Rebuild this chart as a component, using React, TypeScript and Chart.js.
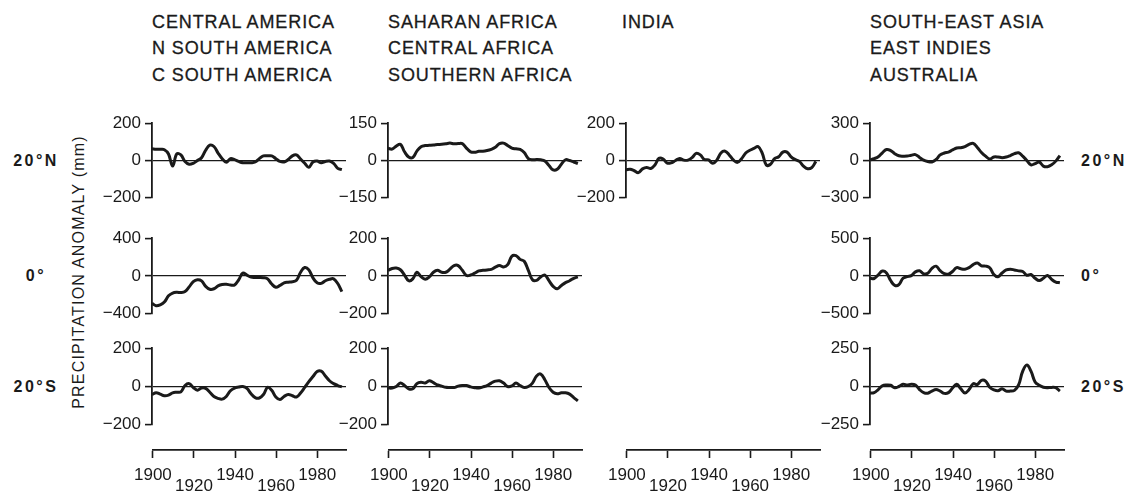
import React, { useEffect, useRef } from "react";
import { Chart, registerables } from "chart.js";

Chart.register(...registerables);

const years = [1900, 1902, 1904, 1906, 1908, 1910, 1912, 1914, 1916, 1918, 1920, 1922, 1924, 1926, 1928, 1930, 1932, 1934, 1936, 1938, 1940, 1942, 1944, 1946, 1948, 1950, 1952, 1954, 1956, 1958, 1960, 1962, 1964, 1966, 1968, 1970, 1972, 1974, 1976, 1978, 1980, 1982, 1984, 1986, 1988, 1990, 1992];

const xTickYears = [1900, 1920, 1940, 1960, 1980];
const loweredTickYears = [1920, 1960];

// 20°N row
const centralAmerica = [63, 60, 60, 58, 35, -30, 35, 30, -5, -20, -15, 0, 15, 55, 82, 75, 40, 10, -10, 10, 5, -5, -12, -12, -12, -8, 10, 25, 25, 25, 10, -5, -8, 5, 25, 30, 8, -15, -36, -8, -3, -12, -5, -3, -15, -42, -48];
const saharanAfrica = [49, 46, 58, 65, 35, 14, 12, 38, 55, 60, 61, 62, 64, 65, 67, 70, 67, 68, 68, 50, 35, 33, 37, 37, 40, 45, 53, 68, 70, 60, 50, 47, 45, 32, 8, 3, 4, 3, -2, -20, -38, -35, -15, 3, 0, -6, -12];
const india = [-50, -47, -55, -65, -45, -37, -43, -24, 12, 8, -14, -12, 0, 11, 2, 2, 15, 38, 30, 5, 3, -15, 2, 40, 50, 30, 3, -10, 10, 40, 55, 65, 75, 40, -25, -20, 10, 20, 45, 45, 20, 5, -5, -30, -44, -38, -5];
const southEastAsia = [5, 15, 30, 62, 88, 80, 55, 38, 35, 36, 42, 47, 25, 3, -8, -12, 8, 45, 60, 68, 85, 100, 103, 112, 130, 138, 105, 65, 35, 12, 28, 28, 23, 28, 40, 55, 62, 35, 0, -35, -25, -12, -45, -50, -35, -5, 40];

// 0° row
const nSouthAmerica = [-290, -315, -305, -275, -210, -180, -172, -175, -165, -115, -60, -40, -52, -110, -140, -135, -105, -90, -88, -95, -95, -40, 30, 10, -12, -15, -15, -18, -30, -85, -118, -100, -72, -65, -60, -45, 40, 90, 65, -20, -72, -78, -50, -35, -30, -80, -165];
const centralAfrica = [30, 40, 42, 33, 5, -25, -15, 20, -3, -17, -5, 20, 30, 20, 20, 36, 55, 55, 30, 3, 5, 15, 27, 30, 32, 35, 47, 55, 48, 60, 105, 108, 88, 78, 30, -20, -23, -5, 5, -25, -55, -67, -50, -35, -25, -12, -5];
const eastIndies = [-30, -33, 15, 65, 40, -60, -125, -115, -30, -8, 5, 55, 70, 29, 35, 100, 130, 70, 30, 25, 60, 110, 95, 90, 110, 150, 172, 135, 131, 110, 20, -10, 40, 80, 90, 80, 68, 60, 10, 20, -30, -60, -30, 8, -45, -80, -90];

// 20°S row
const cSouthAmerica = [-42, -32, -40, -48, -45, -33, -30, -28, 5, 15, -5, -19, -8, -10, -30, -52, -62, -66, -52, -22, -8, -3, 0, -10, -38, -58, -60, -42, -5, -20, -55, -68, -52, -42, -48, -55, -34, -5, 25, 52, 78, 80, 55, 30, 15, 5, -2];
const southernAfrica = [-8, -8, 0, 18, 5, -12, -12, 15, 22, 18, 30, 20, 8, 2, -4, -5, -5, 2, 5, 5, -2, -6, -8, -2, 5, 18, 28, 30, 18, 0, 3, 18, 5, -5, 0, 18, 55, 65, 35, -5, -30, -38, -33, -33, -40, -58, -75];
const australia = [-44, -40, -20, 5, 10, 8, -8, 0, 15, 10, 15, 10, -20, -40, -44, -30, -20, -30, -45, -40, -10, 15, -15, -42, -20, 18, 13, 40, 35, -5, -22, -28, -15, -30, -30, -25, 10, 100, 140, 100, 30, 8, -5, -8, -6, -8, -30];

const headerCol1 = ["CENTRAL AMERICA", "N SOUTH AMERICA", "C SOUTH AMERICA"];
const headerCol2 = ["SAHARAN AFRICA", "CENTRAL AFRICA", "SOUTHERN AFRICA"];
const headerCol3 = ["INDIA"];
const headerCol4 = ["SOUTH-EAST ASIA", "EAST INDIES", "AUSTRALIA"];
const rowLabels = ["20°N", "0°", "20°S"];
const yAxisTitle = "PRECIPITATION ANOMALY (mm)";

const FONT = '"Liberation Sans", Arial, Helvetica, sans-serif';
const INK = "#1a1a1a";
const XMAX = 1994;
const PLOT_W = 194;
const YW = 56;
const PAD = 11;

const colX = [152, 388, 626, 870];
const rowsY = [
  { top: 120, bottom: 201 },
  { top: 235, bottom: 317 },
  { top: 345, bottom: 428 },
];
const AXIS_Y = 450;

const fmt = (v: number) => (v < 0 ? "\u2212" + Math.abs(v) : String(v));

function Panel({ col, row, values, limit }: { col: number; row: number; values: number[]; limit: number }) {
  const ref = useRef<HTMLCanvasElement>(null);
  const axisX = colX[col];
  const { top, bottom } = rowsY[row];
  const w = YW + PLOT_W + 6;
  const h = bottom - top + 2 * PAD;
  useEffect(() => {
    const chart = new Chart(ref.current as HTMLCanvasElement, {
      type: "line",
      data: {
        datasets: [
          {
            data: years.map((y, i) => ({ x: y, y: values[i] })),
            borderColor: INK,
            borderWidth: 3,
            pointRadius: 0,
            tension: 0.4,
            fill: false,
          },
        ],
      },
      options: {
        animation: false,
        responsive: false,
        maintainAspectRatio: false,
        events: [],
        layout: { autoPadding: false, padding: { left: 0, right: 6, top: PAD, bottom: PAD } },
        plugins: { legend: { display: false }, tooltip: { enabled: false } },
        scales: {
          x: { type: "linear", min: 1900, max: XMAX, display: false },
          y: {
            type: "linear",
            min: -limit,
            max: limit,
            afterBuildTicks: (s: any) => {
              s.ticks = [{ value: -limit }, { value: 0 }, { value: limit }];
            },
            afterFit: (s: any) => {
              s.width = YW;
            },
            ticks: {
              callback: (v: any) => fmt(Number(v)),
              font: { family: FONT, size: 17 },
              color: INK,
              padding: 4,
            },
            grid: {
              color: (c: any) => (c.tick && c.tick.value === 0 ? INK : "rgba(0,0,0,0)"),
              lineWidth: 1.2,
              tickColor: INK,
              tickWidth: 1.6,
              tickLength: 7,
              drawTicks: true,
            },
            border: { display: true, color: INK, width: 1.8 },
          },
        },
      },
    } as any);
    return () => chart.destroy();
  }, []);
  return (
    <canvas
      ref={ref}
      width={w}
      height={h}
      style={{ position: "absolute", left: axisX - YW, top: top - PAD, width: w, height: h }}
    />
  );
}

function XAxis({ col }: { col: number }) {
  const ref = useRef<HTMLCanvasElement>(null);
  const axisX = colX[col];
  const leftPad = 30;
  const w = leftPad + PLOT_W + 14;
  const h = 491 - (AXIS_Y - 10);
  useEffect(() => {
    const chart = new Chart(ref.current as HTMLCanvasElement, {
      type: "line",
      data: { datasets: [{ data: [] }] },
      options: {
        animation: false,
        responsive: false,
        maintainAspectRatio: false,
        events: [],
        layout: { autoPadding: false, padding: { left: leftPad, right: 14, top: 0, bottom: 0 } },
        plugins: { legend: { display: false }, tooltip: { enabled: false } },
        scales: {
          y: { display: false, min: 0, max: 1 },
          x: {
            type: "linear",
            position: "bottom",
            min: 1900,
            max: XMAX,
            afterBuildTicks: (s: any) => {
              s.ticks = xTickYears.map((v) => ({ value: v }));
            },
            afterFit: (s: any) => {
              s.height = h - 10;
            },
            ticks: {
              callback: (v: any) => (loweredTickYears.includes(Number(v)) ? ["", String(v)] : String(v)),
              font: { family: FONT, size: 17, lineHeight: "11px" },
              color: INK,
              padding: 12,
              maxRotation: 0,
              minRotation: 0,
              autoSkip: false,
            },
            grid: {
              drawOnChartArea: false,
              drawTicks: true,
              tickLength: 8,
              tickColor: INK,
              tickWidth: 1.6,
              color: INK,
            },
            border: { display: true, color: INK, width: 1.8 },
          },
        },
      },
    } as any);
    return () => chart.destroy();
  }, []);
  return (
    <canvas
      ref={ref}
      width={w}
      height={h}
      style={{ position: "absolute", left: axisX - leftPad, top: AXIS_Y - 10, width: w, height: h }}
    />
  );
}

const textBase: React.CSSProperties = {
  position: "absolute",
  fontFamily: FONT,
  color: INK,
  whiteSpace: "nowrap",
  lineHeight: "1",
};

function Header({ x, lines }: { x: number; lines: string[] }) {
  const ys = [22, 48, 75];
  return (
    <>
      {lines.map((t, i) => (
        <div
          key={i}
          style={{
            ...textBase,
            left: x,
            top: ys[i],
            transform: "translateY(-50%)",
            fontSize: 18,
            letterSpacing: "0.9px",
            WebkitTextStroke: "0.3px " + INK,
          }}
        >
          {t}
        </div>
      ))}
    </>
  );
}

export default function App() {
  const rowCenters = [161, 276, 387];
  return (
    <div
      style={{
        position: "absolute",
        left: 0,
        top: 0,
        width: 1130,
        height: 491,
        overflow: "hidden",
        background: "#fff",
      }}
    >
      <Header x={152} lines={headerCol1} />
      <Header x={388} lines={headerCol2} />
      <Header x={622} lines={headerCol3} />
      <Header x={870} lines={headerCol4} />

      {rowLabels.map((t, i) => (
        <div
          key={"l" + i}
          style={{
            ...textBase,
            left: 36,
            top: rowCenters[i],
            transform: "translate(-50%,-50%)",
            fontSize: 16,
            fontWeight: "bold",
            letterSpacing: "2.5px",
          }}
        >
          {t}
        </div>
      ))}
      {rowLabels.map((t, i) => (
        <div
          key={"r" + i}
          style={{
            ...textBase,
            left: 1081,
            top: rowCenters[i],
            transform: "translateY(-50%)",
            fontSize: 16,
            fontWeight: "bold",
            letterSpacing: "2.5px",
          }}
        >
          {t}
        </div>
      ))}

      <div
        style={{
          ...textBase,
          left: 79,
          top: 272,
          transform: "translate(-50%,-50%) rotate(-90deg)",
          fontSize: 16,
          letterSpacing: "1.2px",
        }}
      >
        {yAxisTitle}
      </div>

      <Panel col={0} row={0} values={centralAmerica} limit={200} />
      <Panel col={1} row={0} values={saharanAfrica} limit={150} />
      <Panel col={2} row={0} values={india} limit={200} />
      <Panel col={3} row={0} values={southEastAsia} limit={300} />

      <Panel col={0} row={1} values={nSouthAmerica} limit={400} />
      <Panel col={1} row={1} values={centralAfrica} limit={200} />
      <Panel col={3} row={1} values={eastIndies} limit={500} />

      <Panel col={0} row={2} values={cSouthAmerica} limit={200} />
      <Panel col={1} row={2} values={southernAfrica} limit={200} />
      <Panel col={3} row={2} values={australia} limit={250} />

      <XAxis col={0} />
      <XAxis col={1} />
      <XAxis col={2} />
      <XAxis col={3} />
    </div>
  );
}
